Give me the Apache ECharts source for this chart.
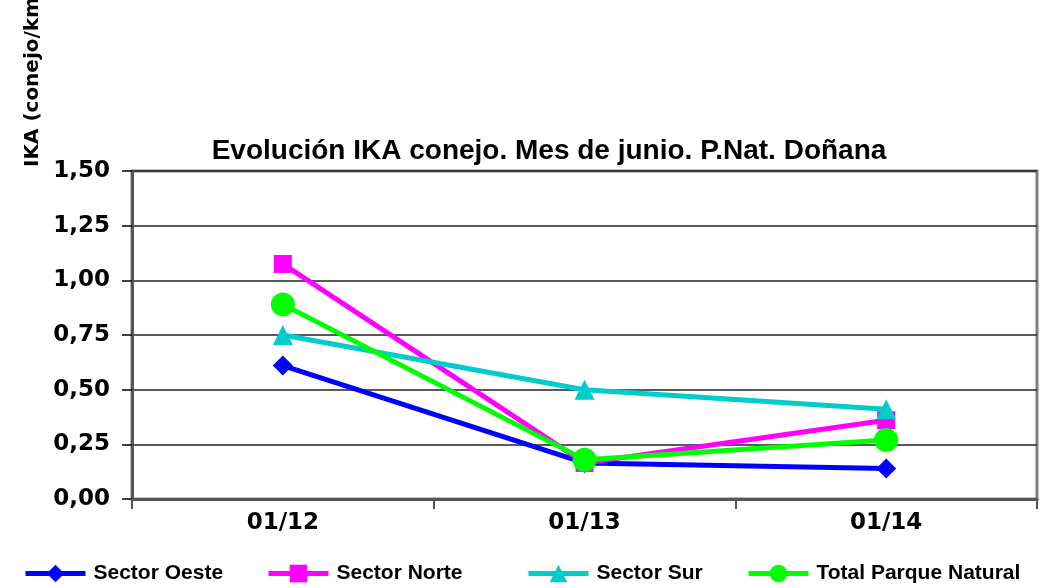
<!DOCTYPE html>
<html>
<head>
<meta charset="utf-8">
<script src="https://cdn.jsdelivr.net/npm/echarts@6/dist/echarts.min.js"></script>
<style>
  html, body { margin: 0; padding: 0; background: #fff; }
  #chart { width: 1055px; height: 588px; }
</style>
</head>
<body>
<div id="chart"></div>
<script>
const categories = ["01/12", "01/13", "01/14"];
const sectorOeste = [0.61, 0.165, 0.14];
const sectorNorte = [1.075, 0.165, 0.36];
const sectorSur = [0.75, 0.50, 0.41];
const totalParque = [0.89, 0.18, 0.27];

const chart = echarts.init(document.getElementById("chart"));

const bold = { fontFamily: "DejaVu Sans", fontWeight: "bold", color: "#000" };

function line(name, data, color, symbol, size) {
  return {
    name,
    type: "line",
    data,
    symbol,
    symbolSize: size,
    lineStyle: { color, width: 5 },
    itemStyle: { color },
    emphasis: { disabled: true },
  };
}

// one legend per item so each sits where the reference puts it
function legendAt(name, left) {
  return {
    data: [name],
    left,
    top: 563,
    padding: 0,
    itemWidth: 60,
    itemHeight: 22,
    itemGap: 0,
    lineStyle: { width: 5 },
    textStyle: { fontFamily: "Liberation Sans", fontWeight: "bold", fontSize: 21, color: "#000", padding: [0, 0, 0, 3] },
  };
}

chart.setOption({
  animation: false,
  backgroundColor: "#fff",
  title: {
    text: "Evolución IKA conejo. Mes de junio. P.Nat. Doñana",
    left: 544,
    textAlign: "center",
    top: 132,
    textStyle: { fontFamily: "Liberation Sans", fontWeight: "bold", fontSize: 28, color: "#000" },
  },
  graphic: [
    {
      type: "text",
      x: 33,
      y: 167,
      rotation: Math.PI / 2,
      style: {
        text: "IKA (conejo/km)",
        font: "bold 20px DejaVu Sans",
        fill: "#000",
        align: "left",
        verticalAlign: "middle",
      },
    },
  ],
  legend: [
    legendAt("Sector Oeste", 23),
    legendAt("Sector Norte", 266),
    legendAt("Sector Sur", 526),
    legendAt("Total Parque Natural", 746),
  ],
  grid: {
    left: 132,
    right: 18,
    top: 171,
    bottom: 89,
    show: true,
    borderColor: "#808080",
    borderWidth: 3,
  },
  xAxis: {
    type: "category",
    data: categories,
    boundaryGap: true,
    axisLine: { lineStyle: { color: "#555", width: 3 } },
    axisTick: { show: true, length: 10, lineStyle: { color: "#555", width: 2 } },
    axisLabel: { ...bold, fontSize: 23, margin: 13 },
  },
  yAxis: {
    type: "value",
    min: 0,
    max: 1.5,
    interval: 0.25,
    axisLine: { show: true, lineStyle: { color: "#555", width: 3 } },
    axisTick: { show: true, length: 10, lineStyle: { color: "#000", width: 1.5 } },
    axisLabel: {
      ...bold,
      fontSize: 23,
      margin: 22,
      formatter: (v) => v.toFixed(2).replace(".", ","),
    },
    splitLine: { lineStyle: { color: "#222", width: 1.5 } },
  },
  series: [
    line("Sector Oeste", sectorOeste, "#0000ff", "diamond", 20),
    line("Sector Norte", sectorNorte, "#ff00ff", "rect", 18),
    line("Sector Sur", sectorSur, "#00cccc", "triangle", 20),
    line("Total Parque Natural", totalParque, "#00ff00", "circle", 24),
  ],
});
</script>
</body>
</html>
